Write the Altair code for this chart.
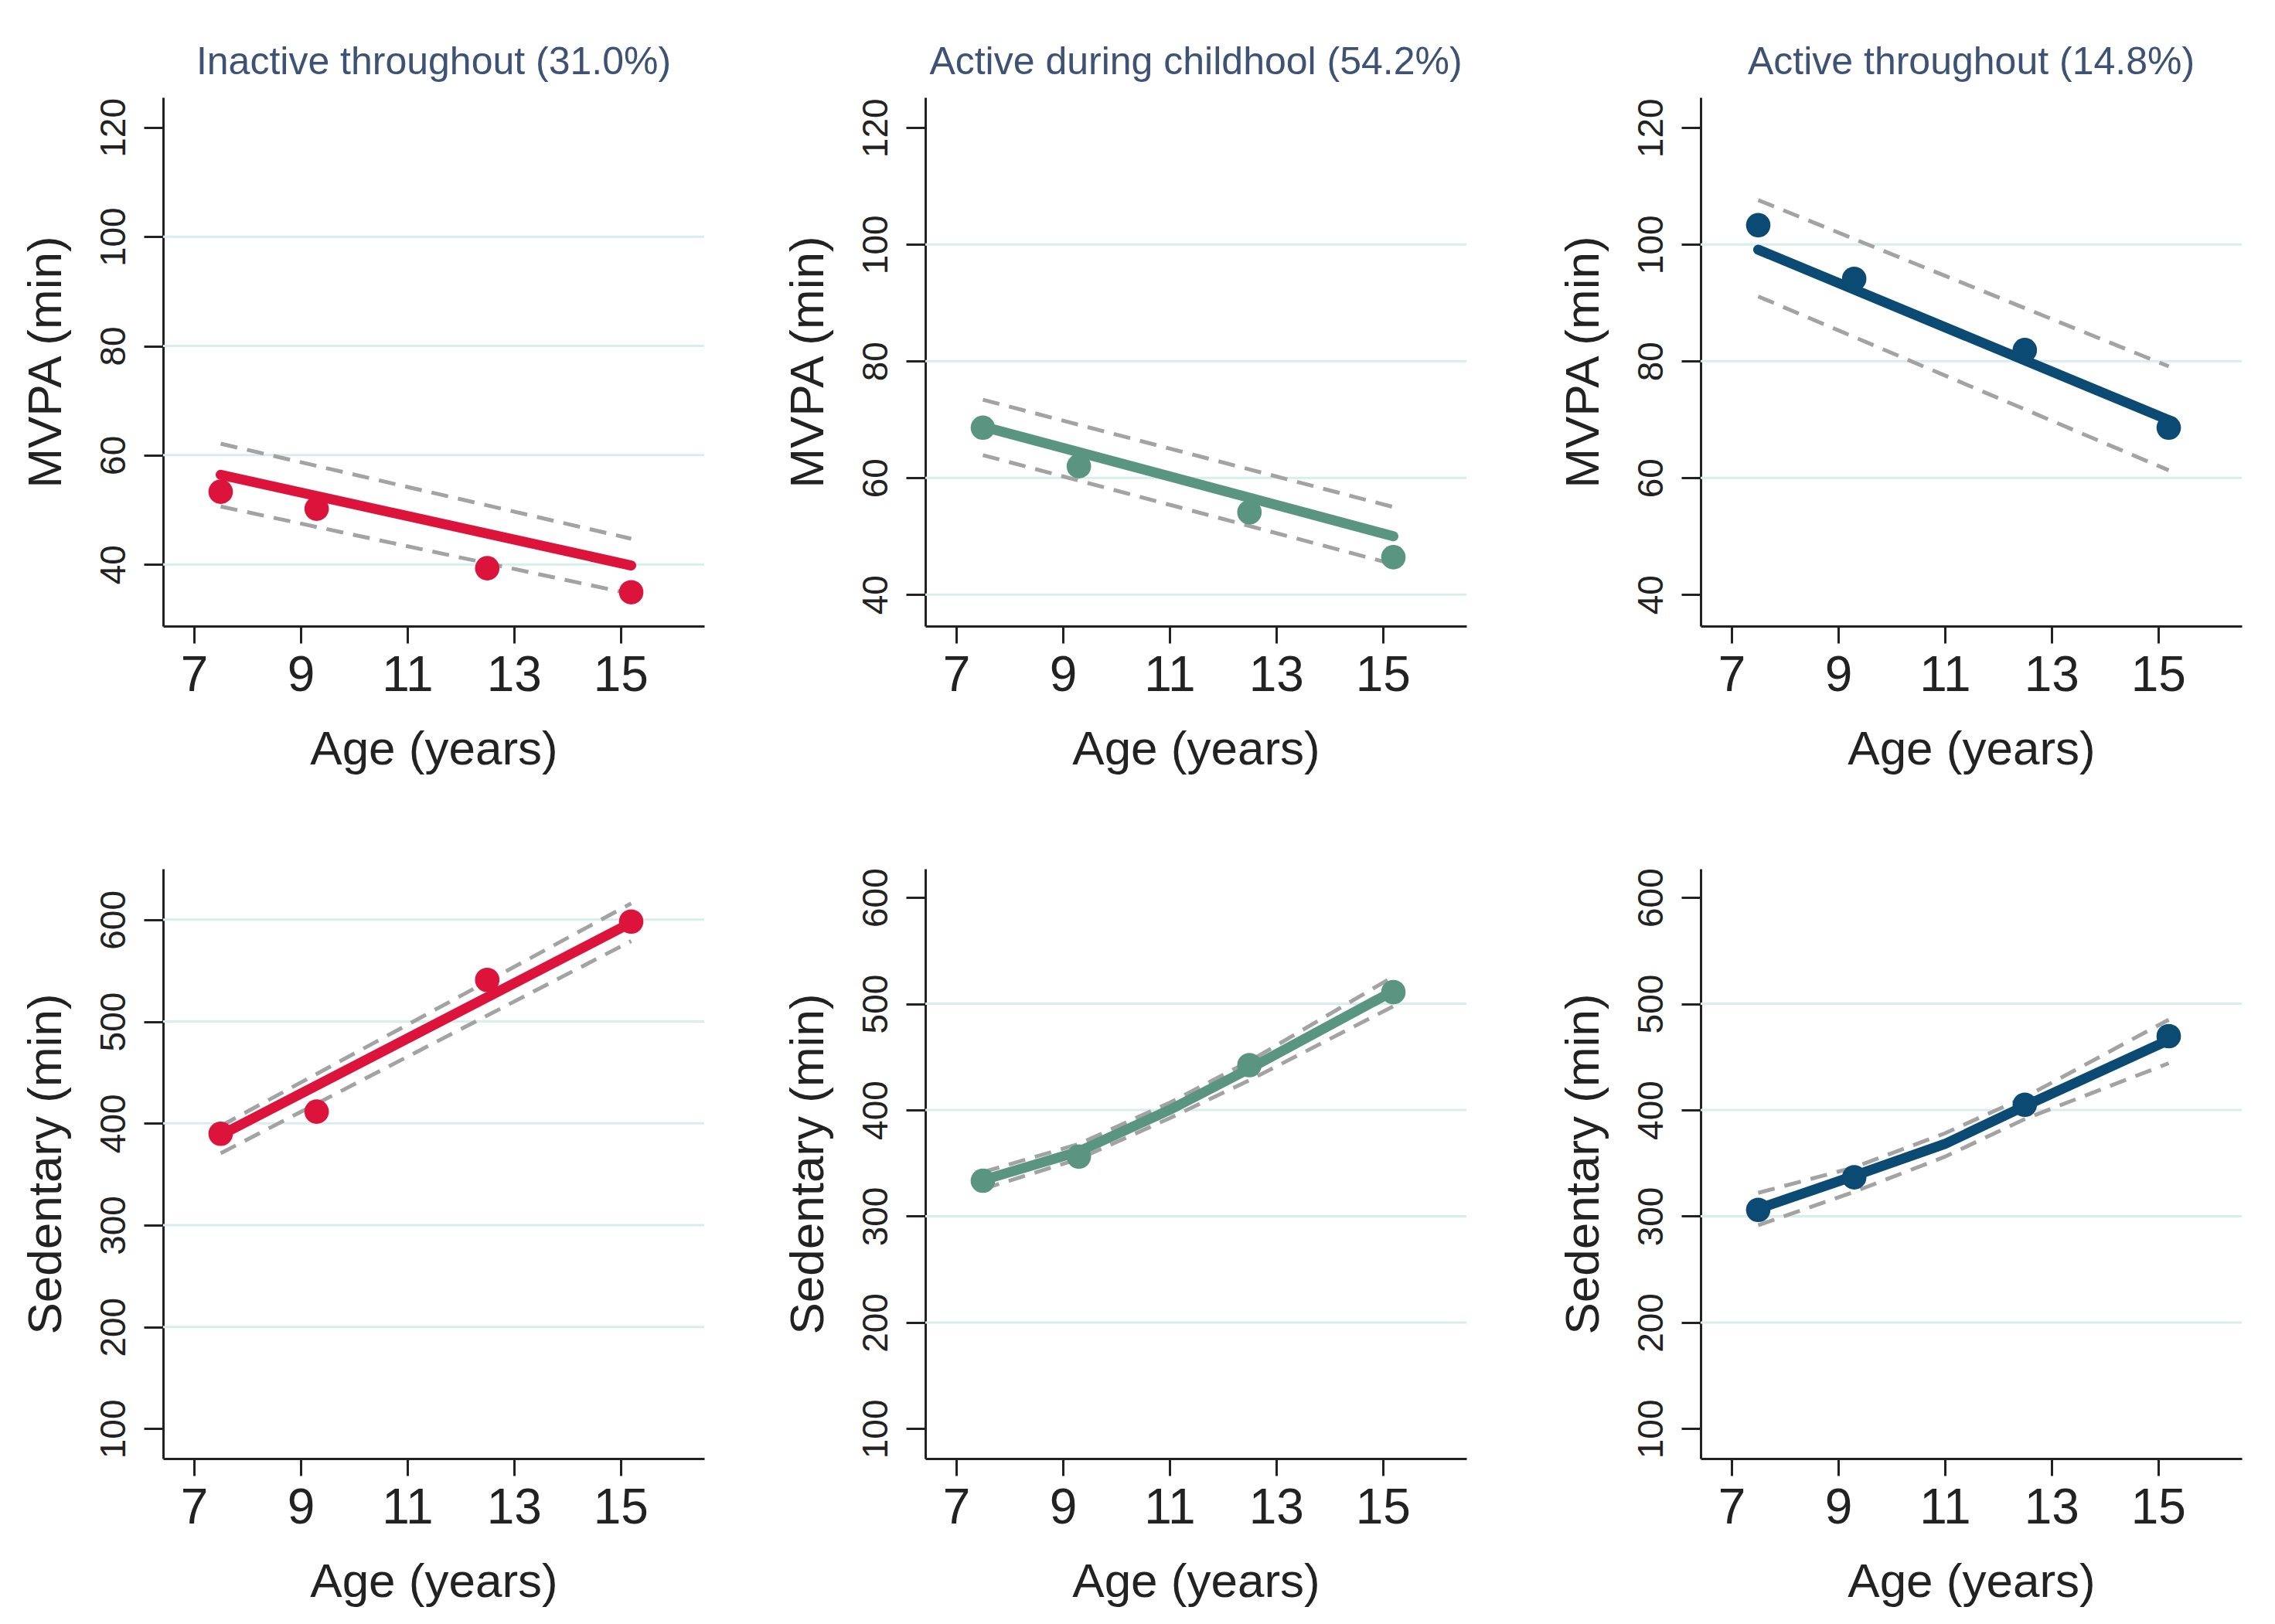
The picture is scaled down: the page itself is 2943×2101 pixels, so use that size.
import altair as alt
import pandas as pd

# ---------------- data ----------------
AGES = [7.5, 9.3, 12.5, 15.2]
FIT_AGES_LIN = [7.5, 15.2]
FIT_AGES_CURVE = [7.5, 9.3, 11.0, 12.5, 15.2]

GROUP_TITLES = ["Inactive throughout (31.0%)",
                "Active during childhool (54.2%)",
                "Active throughout (14.8%)"]
GROUP_COLORS = ["#DC143C", "#5A9582", "#0B4A73"]

# MVPA (top row)
MVPA_OBS = [[53.3, 50.2, 39.3, 34.9],
            [68.6, 62.0, 54.1, 46.4],
            [103.3, 94.1, 81.9, 68.6]]
MVPA_FIT = [[56.4, 39.8], [68.8, 50.0], [99.1, 69.9]]
MVPA_HI = [[62.1, 44.7], [73.4, 55.0], [107.6, 79.1]]
MVPA_LO = [[50.6, 34.6], [63.9, 45.2], [91.1, 61.3]]
MVPA_TICKS = [40, 60, 80, 100, 120]
MVPA_GRID = [[40, 60, 80, 100], [40, 60, 80, 100], [60, 80, 100]]
MVPA_DOMAINS = [[28.7, 125.5], [34.6, 125.2], [34.6, 125.2]]

# Sedentary (bottom row)
SED_OBS = [[389.8, 411.5, 540.9, 598.2],
           [333.4, 356.1, 442.2, 511.0],
           [306.0, 336.6, 404.9, 469.5]]
SED_FIT_X = [FIT_AGES_LIN, FIT_AGES_CURVE, FIT_AGES_CURVE]
SED_FIT = [[388.5, 597.0],
           [334.0, 361.0, 400.0, 439.0, 512.0],
           [307.0, 338.0, 368.0, 403.7, 465.9]]
SED_HI = [[397.4, 616.0],
          [341.5, 368.0, 406.8, 445.9, 525.6],
          [322.0, 346.0, 378.0, 412.0, 485.0]]
SED_LO = [[370.6, 579.0],
          [325.6, 354.0, 392.2, 428.0, 497.6],
          [291.5, 323.0, 356.0, 391.5, 444.0]]
SED_TICKS = [100, 200, 300, 400, 500, 600]
SED_GRID = [[200, 300, 400, 500, 600], [200, 300, 400, 500], [200, 300, 400, 500]]
SED_DOMAINS = [[70.7, 650.0], [71.9, 627.0], [71.9, 627.0]]

X_TICKS = [7, 9, 11, 13, 15]
X_DOMAIN = [6.42, 16.57]

FONT = "Liberation Sans"
PANEL_W = 700
TOP_H = 684
BOT_H = 763


def panel(obs_y, fit_x, fit_y, lo_y, hi_y, grid, domain, ticks, ytitle, color,
          title, height):
    obs_df = pd.DataFrame({"age": AGES, "val": obs_y})
    fit_df = pd.DataFrame({"age": fit_x, "val": fit_y})
    ci_df = pd.concat([
        pd.DataFrame({"age": fit_x, "val": lo_y, "bound": "lo"}),
        pd.DataFrame({"age": fit_x, "val": hi_y, "bound": "hi"}),
    ])
    grid_df = pd.DataFrame({"val": grid})

    x = alt.X("age:Q",
              scale=alt.Scale(domain=X_DOMAIN, nice=False, zero=False),
              axis=alt.Axis(values=X_TICKS, title="Age (years)", grid=False,
                            format="d"))
    y = alt.Y("val:Q",
              scale=alt.Scale(domain=domain, nice=False, zero=False),
              axis=alt.Axis(values=ticks, title=ytitle, grid=False, format="d"))

    g = alt.Chart(grid_df).mark_rule(color="#DAEDED", strokeWidth=3).encode(y=y)
    ci = alt.Chart(ci_df).mark_line(color="#A3A3A3", strokeWidth=5,
                                    strokeDash=[22, 13]).encode(
        x=x, y=y, detail="bound:N")
    fit = alt.Chart(fit_df).mark_line(color=color, strokeWidth=13,
                                      strokeCap="round").encode(x=x, y=y)
    pts = alt.Chart(obs_df).mark_circle(color=color, opacity=1, size=1000).encode(
        x=x, y=y)
    ch = alt.layer(g, ci, fit, pts).properties(width=PANEL_W, height=height)
    if title:
        ch = ch.properties(title=alt.TitleParams(
            text=title, fontSize=50, color="#3D5275", font=FONT,
            fontWeight="normal", offset=20, frame="group", anchor="middle"))
    return ch


top = [panel(MVPA_OBS[i], FIT_AGES_LIN, MVPA_FIT[i], MVPA_LO[i], MVPA_HI[i],
             MVPA_GRID[i], MVPA_DOMAINS[i], MVPA_TICKS, "MVPA (min)",
             GROUP_COLORS[i], GROUP_TITLES[i], TOP_H) for i in range(3)]
bottom = [panel(SED_OBS[i], SED_FIT_X[i], SED_FIT[i], SED_LO[i], SED_HI[i],
                SED_GRID[i], SED_DOMAINS[i], SED_TICKS, "Sedentary (min)",
                GROUP_COLORS[i], None, BOT_H) for i in range(3)]


def row(panels):
    return alt.hconcat(alt.hconcat(panels[0], panels[1], spacing=101),
                       panels[2], spacing=118)


chart = alt.vconcat(
    row(top),
    row(bottom),
    spacing=122,
).properties(
    padding={"left": 20, "top": 48, "right": 5, "bottom": 5},
    background="white",
).configure_view(stroke=None).configure_axis(
    labelFont=FONT, titleFont=FONT, domainColor="#222222", tickColor="#222222",
    domainWidth=3, tickWidth=3, labelColor="#222222", titleColor="#222222",
    titleFontWeight="normal",
).configure_axisX(
    tickSize=22, labelPadding=10, labelFontSize=64, titleFontSize=62,
    titlePadding=33,
).configure_axisY(
    tickSize=25, labelPadding=25, labelFontSize=46, labelAngle=270,
    labelAlign="center", labelBaseline="alphabetic",
    minExtent=86, maxExtent=86, titleFontSize=62, titlePadding=34,
)

chart.save("out.html", embed_options={"renderer": "svg", "actions": False})
